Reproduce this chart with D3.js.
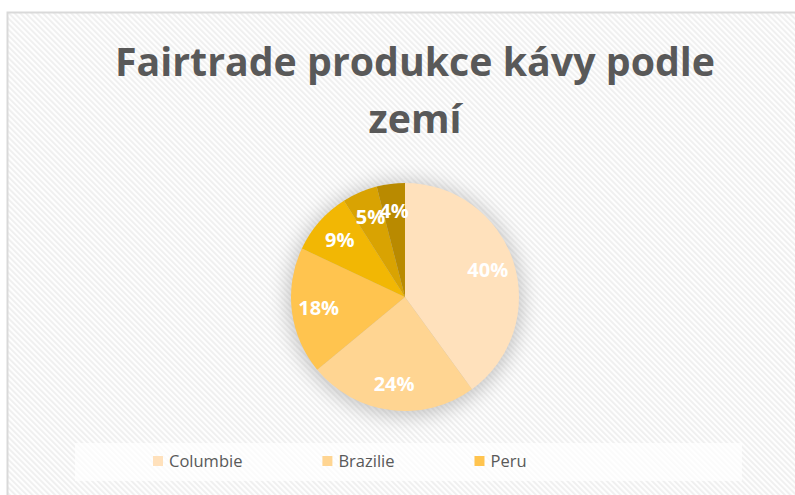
<!DOCTYPE html>
<html>
<head>
<meta charset="utf-8">
<script src="https://cdn.jsdelivr.net/npm/d3@7"></script>
<style>
  html, body { margin: 0; padding: 0; background: #fff; }
  svg { display: block; }
</style>
</head>
<body>
<svg id="chart" width="795" height="495"></svg>
<script>
// data
var countries = ["Columbie", "Brazilie", "Peru", "Honduras", "Mexiko", "Nikaragua"];
var shares = [40, 24, 18, 9, 5, 4];
var sliceColors = ["#ffe1bc", "#ffd592", "#ffc44f", "#f2b704", "#d9a302", "#b98a00"];
var titleLines = ["Fairtrade produkce kávy podle", "zemí"];
var legendShown = 3; // legend is cut off after the third entry

var svg = d3.select("#chart");
var defs = svg.append("defs");

var stripes = defs.append("pattern")
    .attr("id", "stripes")
    .attr("patternUnits", "userSpaceOnUse")
    .attr("width", 4).attr("height", 4)
    .attr("patternTransform", "rotate(-45)");
stripes.append("rect").attr("width", 4).attr("height", 4).attr("fill", "#fefefe");
stripes.append("rect").attr("width", 1.8).attr("height", 4).attr("fill", "#efefef");

var blur = defs.append("filter")
    .attr("id", "glow")
    .attr("x", "-40%").attr("y", "-40%")
    .attr("width", "180%").attr("height", "180%");
blur.append("feGaussianBlur").attr("stdDeviation", 10);

// chart area with border
svg.append("rect")
    .attr("x", 7.5).attr("y", 12.5)
    .attr("width", 800).attr("height", 500)
    .attr("fill", "url(#stripes)")
    .attr("stroke", "#d9d9d9")
    .attr("stroke-width", 2);

// title
svg.append("g")
    .selectAll("text")
    .data(titleLines)
    .enter().append("text")
    .attr("x", 415)
    .attr("y", function(d, i) { return 76 + i * 57; })
    .attr("text-anchor", "middle")
    .style("font-family", "'Open Sans', sans-serif")
    .style("font-weight", 700)
    .style("font-size", "39.3px")
    .style("fill", "#595959")
    .text(function(d) { return d; });

// pie
var cx = 405, cy = 297, radius = 114;
var g = svg.append("g").attr("transform", "translate(" + cx + "," + cy + ")");

g.append("circle")
    .attr("r", radius + 3)
    .attr("cy", 2)
    .attr("fill", "#8c8c8c")
    .attr("opacity", 0.5)
    .attr("filter", "url(#glow)");

var pie = d3.pie().sort(null).value(function(d) { return d; });
var arcs = pie(shares);
var arc = d3.arc().innerRadius(0).outerRadius(radius);
var labelArc = d3.arc().innerRadius(87).outerRadius(87);

g.selectAll("path.slice")
    .data(arcs)
    .enter().append("path")
    .attr("class", "slice")
    .attr("d", arc)
    .attr("fill", function(d, i) { return sliceColors[i]; });

g.selectAll("text.lbl")
    .data(arcs)
    .enter().append("text")
    .attr("class", "lbl")
    .attr("transform", function(d) { return "translate(" + labelArc.centroid(d) + ")"; })
    .attr("dy", "0.36em")
    .attr("text-anchor", "middle")
    .style("font-family", "'Open Sans', sans-serif")
    .style("font-weight", 700)
    .style("font-size", "20px")
    .style("fill", "#fff")
    .text(function(d) { return d.data + "%"; });

// legend
svg.append("rect")
    .attr("x", 75).attr("y", 443)
    .attr("width", 667).attr("height", 38)
    .attr("fill", "#fff")
    .attr("opacity", 0.7);

var legend = svg.append("g").attr("transform", "translate(153,461)");
var lx = 0;
countries.slice(0, legendShown).forEach(function(name, i) {
  var item = legend.append("g").attr("transform", "translate(" + lx + ",0)");
  item.append("rect")
      .attr("x", 0).attr("y", -5)
      .attr("width", 10).attr("height", 10)
      .attr("fill", sliceColors[i]);
  var t = item.append("text")
      .attr("x", 16).attr("y", 0)
      .attr("dy", "0.36em")
      .style("font-family", "'Open Sans', sans-serif")
      .style("font-size", "16.5px")
      .style("fill", "#595959")
      .text(name);
  lx += 16 + t.node().getComputedTextLength() + 80;
});
</script>
</body>
</html>
